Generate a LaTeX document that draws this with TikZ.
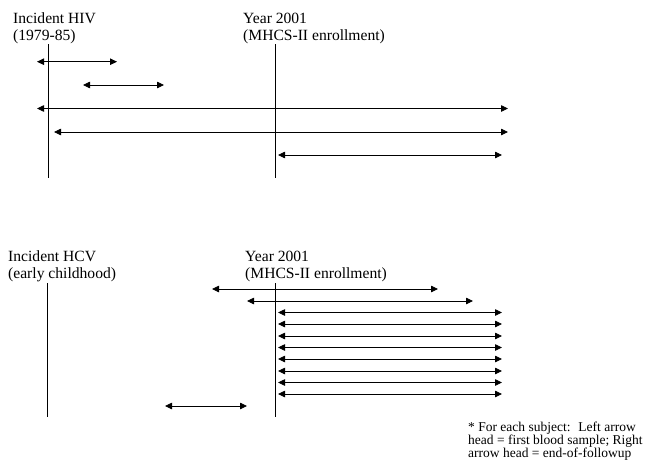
\documentclass[tikz,border=0pt]{standalone}
\usepackage{fontspec}
\setmainfont{Liberation Serif}
\usetikzlibrary{arrows.meta}
\usetikzlibrary{positioning}
\tikzstyle{interval}=[draw,line width=0.8pt,{Triangle[length=7pt,width=6.5pt]}-{Triangle[length=7pt,width=6.5pt]}]
\tikzstyle{timeline}=[draw,line width=0.8pt]
\tikzstyle{heading}=[anchor=base west,inner sep=0pt,font=\fontsize{15.6}{18}\selectfont]
\tikzstyle{note}=[anchor=base west,inner sep=0pt,font=\fontsize{13.5}{13.5}\selectfont]

\begin{document}
\begin{tikzpicture}[x=1pt,y=-1pt]
    \useasboundingbox (0,0) rectangle (647,466);

    % Headings of both panels
    \foreach \pos/\name/\txt in {{(13,23)/hiv/Incident HIV}, {(13,40)/hivtime/(1979-85)}, {(243,23)/yeartop/Year 2001}, {(243,40)/enroltop/(MHCS-II enrollment)}, {(8,261)/hcv/Incident HCV}, {(8,278)/hcvtime/(early childhood)}, {(245,261)/yearbot/Year 2001}, {(245,278)/enrolbot/(MHCS-II enrollment)}}
        \node[heading] (\name) at \pos {\txt};

    % Vertical time marks
    \foreach \x/\ya/\yb/\name in {48/44/178/hivline, 275/44/178/toptime, 47/283/417/hcvline, 275/283/417/bottime}
    {
        \coordinate (\name top) at (\x,\ya);
        \coordinate (\name bot) at (\x,\yb);
        \path[timeline] (\name top) -- (\name bot);
    }

    % Subjects, first blood sample to end of followup
    \foreach \y/\xa/\xb/\name in {61.7/37/117/a1, 85/83/164/a2, 108.5/37/508/a3, 132/54/508/a4, 155/278/502/a5, 289/212/438/b1, 301/247/473/b2, 312.5/278/502/b3, 324/278/502/b4, 336/278/502/b5, 347.5/278/502/b6, 359/278/502/b7, 371/278/502/b8, 382.5/278/502/b9, 394/278/502/b10, 406/165/247/b11}
    {
        \coordinate (\name s) at (\xa,\y);
        \coordinate (\name e) at (\xb,\y);
        \path[interval] (\name s) -- (\name e);
    }

    % Footnote
    \foreach \pos/\name/\txt in {{(468,431)/note1/* For each subject:~ Left arrow}, {(468,444)/note2/head = first blood sample; Right}, {(468,457)/note3/arrow head = end-of-followup}}
        \node[note] (\name) at \pos {\txt};
\end{tikzpicture}
\end{document}
